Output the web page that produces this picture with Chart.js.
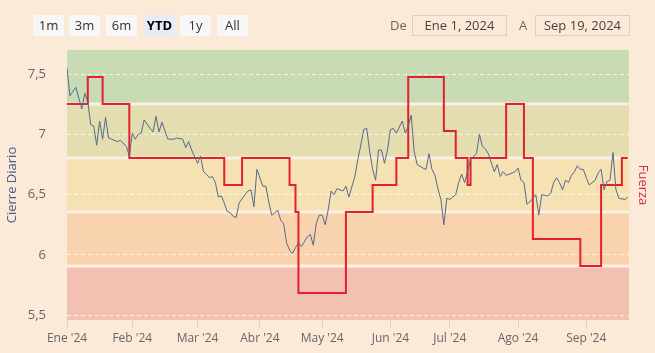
<!DOCTYPE html>
<html>
<head>
<meta charset="utf-8">
<script src="https://cdn.jsdelivr.net/npm/chart.js@4.4.1/dist/chart.umd.min.js"></script>
<style>
  html, body { margin: 0; padding: 0; background: #fcead9; }
  body { width: 655px; height: 353px; position: relative; overflow: hidden; font-family: "Open Sans", sans-serif; }
  #chart { position: absolute; left: 0; top: 0; }
  .btn { position: absolute; top: 15px; width: 31px; height: 21px; line-height: 21px; text-align: center;
         background: #f7f7f7; color: #333; font-size: 13px; }
  .btn.on { background: #e6ebf5; font-weight: bold; color: #000; }
  .lbl { position: absolute; top: 15px; line-height: 21px; font-size: 13px; color: #666; }
  .box { position: absolute; top: 15px; height: 19px; line-height: 19px; border: 1px solid #d8cfc6;
         text-align: center; font-size: 13px; color: #444; }
</style>
</head>
<body>
<canvas id="chart" width="655" height="353"></canvas>
<div class="btn" style="left:33px">1m</div>
<div class="btn" style="left:69px">3m</div>
<div class="btn" style="left:106px">6m</div>
<div class="btn on" style="left:144px">YTD</div>
<div class="btn" style="left:180px">1y</div>
<div class="btn" style="left:217px">All</div>
<div class="lbl" style="left:390px">De</div>
<div class="box" style="left:412px;width:93px">Ene 1, 2024</div>
<div class="lbl" style="left:519px">A</div>
<div class="box" style="left:535px;width:93px">Sep 19, 2024</div>
<script>
// trading-day index since Ene 1, 2024
const closeDays = [0,1,3,5,6,7,8,9,10,11,12,13,14,15,17,18,20,21,22,23,24,25,26,28,29,30,31,32,34,36,37,39,40,41,42,44,45,46,47,48,49,50,51,52,53,54,55,56,57,58,60,61,62,63,64,66,67,68,69,70,71,72,73,74,75,76,77,78,79,81,82,83,84,85,86,87,88,89,90,91,93,94,95,97,98,99,100,101,102,103,104,105,106,107,108,109,110,111,113,114,115,116,117,118,120,121,122,123,124,125,126,127,128,129,131,132,133,134,135,136,138,139,140,141,142,144,145,146,147,148,149,151,152,153,154,155,156,158,159,160,162,163,164,165,166,167,168,169,170,171,172,173,174,175,176,178,179,180,181,182,183,184,185,186,188,189];
const closeValues = [7.55,7.32,7.39,7.21,7.34,7.27,7.08,7.07,6.91,7.11,6.96,7.14,6.97,6.96,6.94,6.95,6.90,6.82,7.01,6.96,7.00,7.01,7.12,7.05,7.02,7.15,7.02,7.10,6.96,6.96,6.97,6.96,6.89,6.94,6.87,6.76,6.82,6.69,6.67,6.64,6.65,6.60,6.48,6.49,6.43,6.36,6.35,6.32,6.31,6.43,6.50,6.53,6.54,6.40,6.71,6.57,6.57,6.44,6.33,6.35,6.37,6.29,6.26,6.10,6.04,6.01,6.06,6.10,6.07,6.15,6.17,6.08,6.26,6.33,6.33,6.25,6.37,6.53,6.50,6.55,6.53,6.57,6.48,6.65,6.79,6.91,7.04,7.05,6.86,6.71,6.62,6.87,6.87,6.76,6.87,7.04,7.05,7.01,7.11,7.01,7.07,7.16,6.86,6.75,6.72,6.71,6.84,6.71,6.66,6.55,6.46,6.25,6.47,6.46,6.50,6.60,6.67,6.60,6.69,6.79,6.84,7.00,6.90,6.88,6.84,6.69,6.75,6.65,6.69,6.66,6.67,6.69,6.72,6.62,6.60,6.42,6.44,6.50,6.33,6.50,6.49,6.51,6.60,6.64,6.60,6.54,6.62,6.60,6.66,6.69,6.74,6.71,6.71,6.64,6.58,6.62,6.68,6.71,6.54,6.61,6.62,6.85,6.54,6.47,6.46,6.48];

const fuerzaDays   = [0,7,12,21,53,59,75,77,78,94,103,111,115,127,131,135,136,148,154,157,173,180,187,189];
const fuerzaLevels = [8,9,8,6,5,6,5,4,1,4,5,6,9,7,6,5,6,8,6,3,2,5,6,6];

const monthTickDays = [0,22,44,65,86,109,129,152,175];
const monthLabels = ["Ene '24","Feb '24","Mar '24","Abr '24","May '24","Jun '24","Jul '24","Ago '24","Sep '24"];
const closeTicks = [5.5,6,6.5,7,7.5];

const bandFrom = [0,2,4,6,8];
const bandTo = [2,4,6,8,10];
const bandColors = ["#f2c1b1","#f9d3ae","#f5e1b2","#e3ddb0","#c8dbb5"];

const bandsPlugin = {
  id: "bands",
  beforeDraw(chart) {
    const ctx = chart.ctx, a = chart.chartArea, s = chart.scales.yF;
    ctx.save();
    bandFrom.forEach((f, i) => {
      const y1 = s.getPixelForValue(bandTo[i]), y2 = s.getPixelForValue(f);
      ctx.fillStyle = bandColors[i];
      ctx.fillRect(a.left, y1, a.right - a.left, y2 - y1);
    });
    ctx.strokeStyle = "#fcefe3";
    ctx.lineWidth = 3;
    bandFrom.slice(1).forEach(f => {
      const y = s.getPixelForValue(f);
      ctx.beginPath();
      ctx.moveTo(a.left, y);
      ctx.lineTo(a.right, y);
      ctx.stroke();
    });
    ctx.restore();
  }
};

new Chart(document.getElementById("chart"), {
  type: "line",
  data: {
    datasets: [{
      label: "Cierre Diario",
      data: closeDays.map((d, i) => ({ x: d, y: closeValues[i] })),
      borderColor: "#536b8c",
      borderWidth: 1,
      pointRadius: 0,
      tension: 0,
      yAxisID: "y"
    }, {
      label: "Fuerza",
      data: fuerzaDays.map((d, i) => ({ x: d, y: fuerzaLevels[i] })),
      borderColor: "#e3202c",
      borderWidth: 2,
      pointRadius: 0,
      stepped: "before",
      yAxisID: "yF"
    }]
  },
  options: {
    responsive: false,
    animation: false,
    layout: { padding: { top: 50, left: 0, right: 0, bottom: 0 } },
    plugins: { legend: { display: false }, tooltip: { enabled: false } },
    scales: {
      x: {
        type: "linear",
        min: 0,
        max: 189.4,
        afterBuildTicks: ax => { ax.ticks = monthTickDays.map(v => ({ value: v })); },
        afterFit: ax => { ax.height = 33; },
        ticks: {
          autoSkip: false,
          maxRotation: 0,
          padding: 3,
          color: "#666",
          font: { family: "Open Sans", size: 12 },
          callback: v => monthLabels[monthTickDays.indexOf(v)]
        },
        grid: { drawOnChartArea: false, tickLength: 8, color: "#ccd6eb" },
        border: { display: false }
      },
      y: {
        position: "left",
        min: 5.46,
        max: 7.70,
        afterBuildTicks: ax => { ax.ticks = closeTicks.map(v => ({ value: v })); },
        afterFit: ax => { ax.width = 67; },
        ticks: {
          padding: 21,
          color: "#666",
          font: { family: "Open Sans", size: 13 },
          callback: v => String(v).replace(".", ",")
        },
        grid: { drawTicks: false, color: "rgba(255,255,255,0.75)", lineWidth: 1 },
        border: { display: false, dash: [4, 3] },
        title: { display: true, text: "Cierre Diario", color: "#4a5e85", font: { family: "Open Sans", size: 13 } }
      },
      yF: {
        position: "right",
        min: 0,
        max: 10,
        afterFit: ax => { ax.width = 26; },
        ticks: { display: false },
        grid: { display: false },
        border: { display: false },
        title: { display: true, text: "Fuerza", color: "#d42a3a", font: { family: "Open Sans", size: 13 } }
      }
    }
  },
  plugins: [bandsPlugin]
});
</script>
</body>
</html>
